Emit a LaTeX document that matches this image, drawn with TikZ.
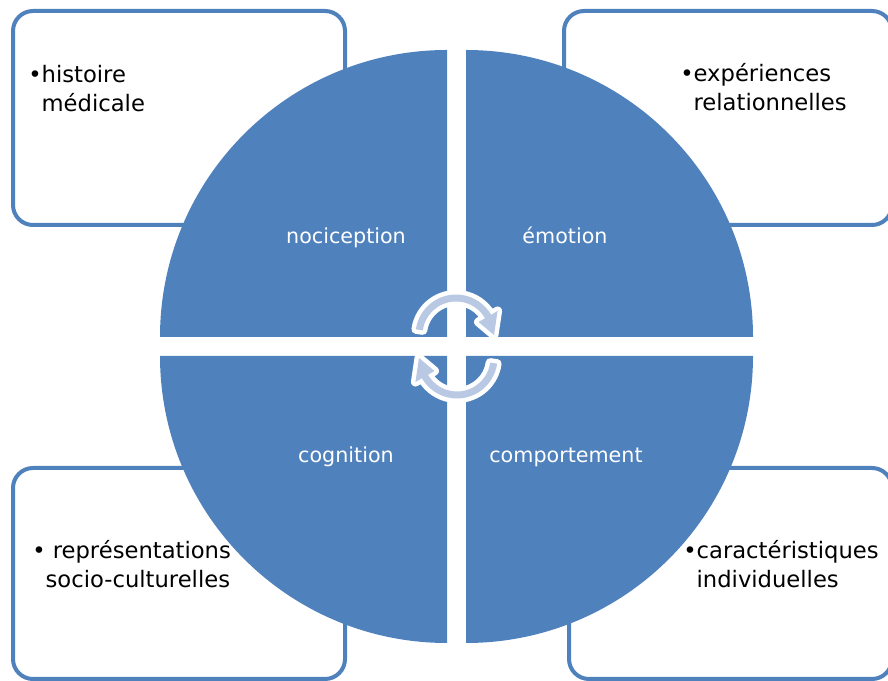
\documentclass[tikz,border=0pt]{standalone}
\usepackage{fontspec}
\setmainfont{DejaVu Sans}

\definecolor{bleu}{RGB}{79,129,189}
\definecolor{bleuclair}{RGB}{185,201,228}

\tikzset{
    cadre/.style={draw=bleu, line width=3pt, rounded corners=15pt, fill=white},
    texte/.style={font=\fontsize{17}{21.75}\selectfont, align=left, inner sep=0pt, anchor=base west},
    quart/.style={fill=bleu},
    etiquette/.style={font=\fontsize{15.5}{18}\selectfont, text=white, anchor=base},
    fleche/.style={fill=bleuclair, preaction={draw=white, line width=6.75pt, line join=round}},
    cyclefleche/.pic={
        \path[fleche] (172:40.5) arc[start angle=172, end angle=30, radius=40.5]
            -- (30:48) -- (0:38) -- (30:26) -- (30:33.5)
            arc[start angle=30, end angle=172, radius=33.5] -- cycle;
    }
}

\begin{document}
\begin{tikzpicture}[x=0.75pt, y=0.75pt]

    \useasboundingbox (0,0) rectangle (888,681);

    % Dessiner les cadres
    \draw[cadre] (13,456) rectangle (345,670);
    \draw[cadre] (564,456) rectangle (892,670);
    \draw[cadre] (13,2) rectangle (345,213);
    \draw[cadre] (569,2) rectangle (892,213);

    % Dessiner les quatre quarts du disque
    \fill[quart] (447,344) -- (160,344) arc[start angle=180, end angle=90, radius=287] -- cycle;
    \fill[quart] (466,344) -- (466,631) arc[start angle=90, end angle=0, radius=287] -- cycle;
    \fill[quart] (447,325) -- (160,325) arc[start angle=180, end angle=270, radius=287] -- cycle;
    \fill[quart] (466,325) -- (753,325) arc[start angle=0, end angle=-90, radius=287] -- cycle;

    \node[etiquette] (nociception) at (346,437) {nociception};
    \node[etiquette] (emotion) at (565,437) {émotion};
    \node[etiquette] (cognition) at (346,218) {cognition};
    \node[etiquette] (comportement) at (566,218) {comportement};

    % Dessiner les flèches du cycle
    \pic at (456,346) {cyclefleche};
    \pic[rotate=180] at (457,323) {cyclefleche};

    \node[texte] (histoire) at (28,569) {\textbullet histoire\\\hphantom{\textbullet}médicale};
    \node[texte] (experiences) at (680,570) {\textbullet expériences\\\hphantom{\textbullet}relationnelles};
    \node[texte] (representations) at (32,93) {\textbullet{} représentations\\\hphantom{\textbullet}socio-culturelles};
    \node[texte] (caracteristiques) at (683,93) {\textbullet caractéristiques\\\hphantom{\textbullet}individuelles};

\end{tikzpicture}
\end{document}
